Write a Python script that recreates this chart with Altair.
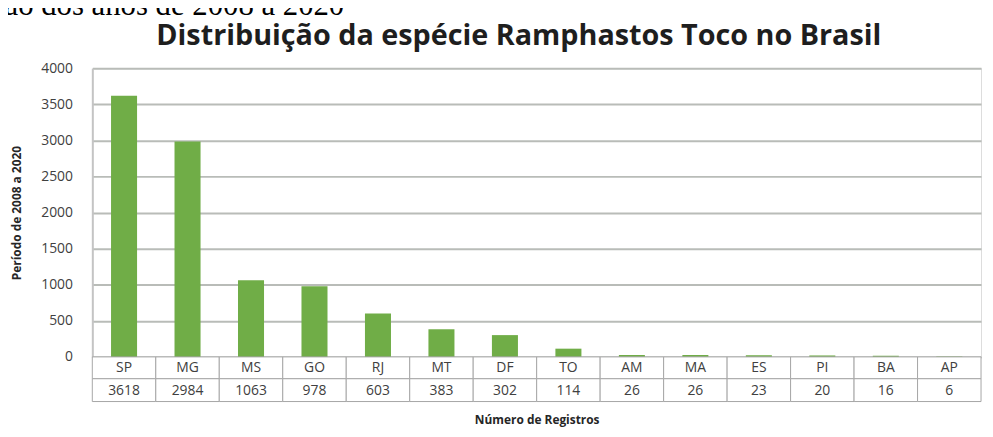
import altair as alt
import pandas as pd

# ---- data ----
estados = ["SP", "MG", "MS", "GO", "RJ", "MT", "DF", "TO", "AM", "MA", "ES", "PI", "BA", "AP"]
registros = [3618, 2984, 1063, 978, 603, 383, 302, 114, 26, 26, 23, 20, 16, 6]
y_ticks = [0, 500, 1000, 1500, 2000, 2500, 3000, 3500, 4000]

titulo = "Distribuição da espécie Ramphastos Toco no Brasil"
legenda_topo = "ção dos anos de 2008 a 2020"
titulo_y = "Período de 2008 a 2020"
titulo_x = "Número de Registros"

df = pd.DataFrame({
    "estado": estados,
    "registros": registros,
    "rotulo": [str(v) for v in registros],
})

W, H = 896, 291
R1, R2 = 22, 23
GREEN = "#70AD47"
GRID = "#B9BCB8"
BORDER = "#A6A6A6"
TXT = "#404040"
SANS = "Open Sans"

xenc = alt.X(
    "estado:N", sort=estados,
    scale=alt.Scale(paddingInner=0, paddingOuter=0),
    axis=alt.Axis(
        title=titulo_x, labels=False, ticks=False, domain=False, grid=False,
        titleFont=SANS, titleFontSize=12, titleFontWeight="bold", titleColor="#262626",
        titleY=63, titleBaseline="middle",
    ),
)

base = alt.Chart(df)

bars = base.mark_bar(color=GREEN, width=alt.RelativeBandSize(0.41)).encode(
    x=xenc,
    y=alt.Y(
        "registros:Q",
        scale=alt.Scale(domain=[0, 4000], nice=False),
        axis=alt.Axis(
            values=y_ticks, format="d", title=titulo_y, ticks=False, domain=True,
            domainColor="#C4C4C4", domainWidth=2,
            grid=True, gridColor=GRID, gridWidth=2,
            labelFont=SANS, labelFontSize=14, labelColor=TXT, labelPadding=20,
            titleFont=SANS, titleFontSize=12, titleFontWeight="bold", titleColor="#262626",
            titleX=-76, titleY=H / 2, titleAngle=-90, titleAlign="center", titleBaseline="middle",
        ),
    ),
)

row1 = base.mark_rect(fill="white", stroke=BORDER, strokeWidth=1).encode(
    x=alt.X("estado:N", sort=estados), y=alt.value(H), y2=alt.value(H + R1)
)
row2 = base.mark_rect(fill="white", stroke=BORDER, strokeWidth=1).encode(
    x=alt.X("estado:N", sort=estados), y=alt.value(H + R1), y2=alt.value(H + R1 + R2)
)
txt1 = base.mark_text(font=SANS, fontSize=14, color=TXT, baseline="middle").encode(
    x=alt.X("estado:N", sort=estados), y=alt.value(H + R1 / 2 + 0.5), text="estado:N"
)
txt2 = base.mark_text(font=SANS, fontSize=14, color=TXT, baseline="middle").encode(
    x=alt.X("estado:N", sort=estados), y=alt.value(H + R1 + R2 / 2 + 0.5), text="rotulo:N"
)

tdf = pd.DataFrame({"t": [titulo]})
cdf = pd.DataFrame({"t": [legenda_topo]})
title_mark = alt.Chart(tdf).mark_text(
    font=SANS, fontSize=29, fontWeight="bold", color="#1E1E1E", align="center", baseline="alphabetic"
).encode(text="t:N", x=alt.value(430), y=alt.value(-23))
caption_mark = alt.Chart(cdf).mark_text(
    font="Liberation Serif", fontSize=31, color="black", align="right", baseline="alphabetic"
).encode(text="t:N", x=alt.value(254), y=alt.value(-54))

chart = alt.layer(bars, row1, row2, txt1, txt2, title_mark, caption_mark).properties(
    width=W, height=H,
    padding={"left": 85, "top": 59, "right": 4, "bottom": 79},
    autosize=alt.AutoSizeParams(type="none"),
).configure_view(fill="#E9EEE6", stroke=None).configure(background="white")

chart.save("out.html", embed_options={"renderer": "svg", "actions": False})
